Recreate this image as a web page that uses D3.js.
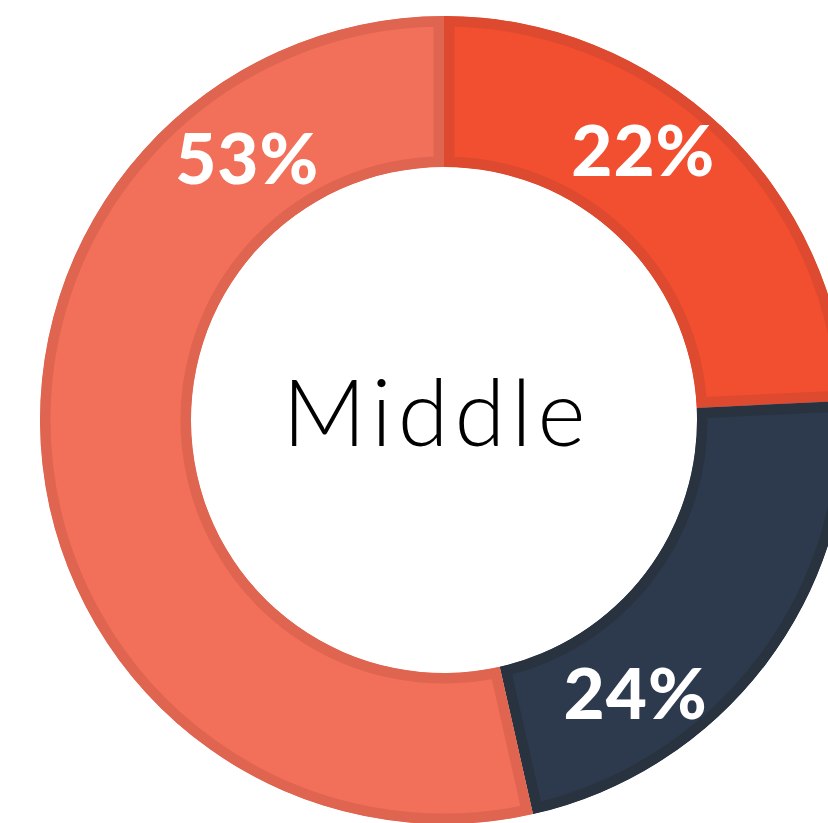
<!DOCTYPE html>
<html lang="en">
<head>
  <meta charset="UTF-8">
  <title>Middle donut</title>
  <script src="https://d3js.org/d3.v7.min.js"></script>
  <style>
    html, body { margin: 0; padding: 0; background: #fff; overflow: hidden; }
  </style>
</head>
<body>

<div id="chart-container"></div>

<script>
// slice sizes (clockwise from 12 o'clock) and the text printed on them
const values = [24, 22, 53];
const labels = ["22%", "24%", "53%"];
const fills = ["#F24E30", "#2D3A4D", "#F26F59"];
const strokes = ["#DD4A2F", "#28333F", "#DF6551"];
const centerText = "Middle";

const width = 828, height = 823;
const cx = 444, cy = 420;
const outerR = 404, innerR = 253;

const svg = d3.select("#chart-container")
  .append("svg")
  .attr("width", width)
  .attr("height", height);

const g = svg.append("g")
  .attr("transform", `translate(${cx},${cy})`);

const pie = d3.pie().sort(null).value(d => d);
const arc = d3.arc().innerRadius(innerR).outerRadius(outerR);
const arcs = pie(values);

// clip each slice to itself so the stroke sits on the inside
const defs = svg.append("defs");
defs.selectAll("clipPath")
  .data(arcs)
  .enter()
  .append("clipPath")
  .attr("id", (d, i) => "clip" + i)
  .append("path")
  .attr("d", arc);

g.selectAll("path.slice")
  .data(arcs)
  .enter()
  .append("path")
  .attr("class", "slice")
  .attr("d", arc)
  .attr("fill", (d, i) => fills[i])
  .attr("stroke", (d, i) => strokes[i])
  .attr("stroke-width", 21)
  .attr("clip-path", (d, i) => `url(#clip${i})`);

// the labels don't sit on the centroids in the original, so place them by angle
const labelDeg = [36.5, 145, 323];
const labelR = [335, 334, 327];

g.selectAll("text.pct")
  .data(arcs)
  .enter()
  .append("text")
  .attr("class", "pct")
  .attr("transform", (d, i) => {
    const a = labelDeg[i] * Math.PI / 180;
    const p = d3.arc().innerRadius(labelR[i]).outerRadius(labelR[i])
      .centroid({startAngle: a, endAngle: a});
    return `translate(${p[0]},${p[1]})`;
  })
  .attr("text-anchor", "middle")
  .attr("dy", "0.36em")
  .style("font-family", "Lato, 'Open Sans', sans-serif")
  .style("font-weight", 900)
  .style("font-size", "71px")
  .style("letter-spacing", "1px")
  .style("fill", "#fff")
  .text((d, i) => labels[i]);

g.append("text")
  .attr("x", -7)
  .attr("y", 26)
  .attr("text-anchor", "middle")
  .style("font-family", "Lato, 'Open Sans', sans-serif")
  .style("font-weight", 300)
  .style("font-size", "92px")
  .style("letter-spacing", "6px")
  .style("fill", "#000")
  .text(centerText);
</script>

</body>
</html>
